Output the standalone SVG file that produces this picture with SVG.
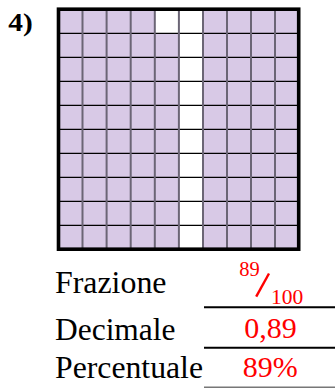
<svg xmlns="http://www.w3.org/2000/svg" width="335" height="388" viewBox="0 0 335 388">
<style>
.lbl{font-family:"Liberation Serif","Times New Roman",serif;font-size:31px;fill:#000}
.ans{font-family:"Liberation Serif","Times New Roman",serif;fill:#ff0000}
.vl{stroke:#6b6575;stroke-width:2}
.hl{stroke:#000;stroke-width:1.3}
.rule{stroke:#000;stroke-width:2}
</style>
<rect width="335" height="388" fill="#fff"/>
<text id="num" x="8.3" y="30.5" font-family="'Liberation Serif','Times New Roman',serif" font-weight="bold" font-size="25.5" textLength="24.5" lengthAdjust="spacingAndGlyphs">4)</text>
<g id="grid">
<rect x="58.5" y="9.2" width="240.2" height="240" fill="#d8c9e6"/>
<rect x="155" y="9.2" width="24.2" height="24" fill="#fff"/>
<rect x="179.2" y="9.2" width="24" height="240" fill="#fff"/>
<g class="hl">
<line x1="58.5" y1="33.3" x2="298.7" y2="33.3"/>
<line x1="58.5" y1="57.3" x2="298.7" y2="57.3"/>
<line x1="58.5" y1="81.3" x2="298.7" y2="81.3"/>
<line x1="58.5" y1="105.3" x2="298.7" y2="105.3"/>
<line x1="58.5" y1="129.3" x2="298.7" y2="129.3"/>
<line x1="58.5" y1="153.3" x2="298.7" y2="153.3"/>
<line x1="58.5" y1="177.3" x2="298.7" y2="177.3"/>
<line x1="58.5" y1="201.3" x2="298.7" y2="201.3"/>
<line x1="58.5" y1="225.3" x2="298.7" y2="225.3"/>
</g>
<g class="vl">
<line x1="82.5" y1="9.2" x2="82.5" y2="249.2"/>
<line x1="106.6" y1="9.2" x2="106.6" y2="249.2"/>
<line x1="130.7" y1="9.2" x2="130.7" y2="249.2"/>
<line x1="154.8" y1="9.2" x2="154.8" y2="249.2"/>
<line x1="178.9" y1="9.2" x2="178.9" y2="249.2"/>
<line x1="203" y1="9.2" x2="203" y2="249.2"/>
<line x1="227" y1="9.2" x2="227" y2="249.2"/>
<line x1="251" y1="9.2" x2="251" y2="249.2"/>
<line x1="275" y1="9.2" x2="275" y2="249.2"/>
</g>
<rect x="58.5" y="9.2" width="240.2" height="240" fill="none" stroke="#000" stroke-width="3.6"/>
</g>
<g id="labels">
<text class="lbl" x="55" y="293.3" textLength="111.5" lengthAdjust="spacingAndGlyphs">Frazione</text>
<text class="lbl" x="55" y="340.3" textLength="120.5" lengthAdjust="spacingAndGlyphs">Decimale</text>
<text class="lbl" x="55" y="378.3" textLength="148" lengthAdjust="spacingAndGlyphs">Percentuale</text>
</g>
<g id="rules">
<line class="rule" x1="204" y1="307.3" x2="335" y2="307.3"/>
<line class="rule" x1="204" y1="347.7" x2="335" y2="347.7"/>
<line x1="204" y1="387.2" x2="335" y2="387.2" stroke="#777" stroke-width="1.6"/>
</g>
<g id="answers">
<text class="ans" x="239.3" y="275.5" font-size="20.5">89</text>
<line x1="256.2" y1="296.7" x2="269" y2="273.5" stroke="#ff0000" stroke-width="2.4"/>
<text class="ans" x="271" y="304.2" font-size="21.5">100</text>
<text class="ans" x="244.3" y="338.3" font-size="30">0,89</text>
<text class="ans" x="242.7" y="376.7" font-size="30">89%</text>
</g>
</svg>
